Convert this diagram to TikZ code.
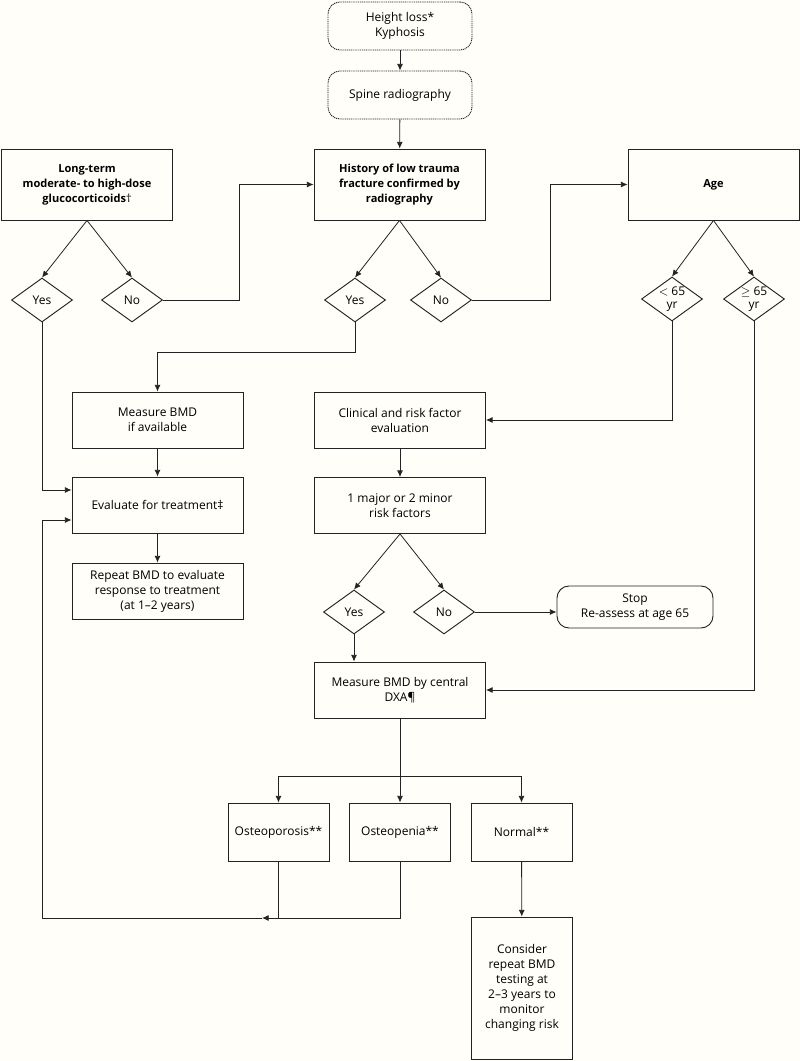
\documentclass[tikz,border=0pt]{standalone}
\usepackage{amsmath,amssymb}
\usepackage{fontspec}
\setmainfont{Open Sans}
\usepackage{tikz}
\usetikzlibrary{arrows.meta,calc,positioning,shapes.geometric}
\usepackage{xcolor}
\definecolor{paper}{RGB}{255,254,248}
\definecolor{ink}{RGB}{35,35,35}
\tikzset{
  box/.style={draw=ink,line width=0.7pt,rectangle,align=center,inner sep=2pt,
    minimum width=128.25pt,minimum height=42pt},
  headbox/.style={box,minimum height=53.25pt,font=\bfseries\fontsize{8.3}{11.25}\selectfont},
  softbox/.style={box,minimum width=108pt,minimum height=36pt,rounded corners=9pt,
    dash pattern=on 0.8pt off 0.6pt},
  smallbox/.style={box,minimum width=75.75pt,minimum height=43.5pt},
  endbox/.style={box,minimum width=117pt,minimum height=31.5pt,rounded corners=9pt},
  choice/.style={draw=ink,line width=0.7pt,diamond,aspect=1.4,inner sep=0pt,align=center,
    minimum width=45.75pt,minimum height=33pt},
  agechoice/.style={choice,label={[align=center,inner sep=0pt]center:#1}},
  every node/.style={font=\fontsize{9}{11.25}\selectfont}
}
\tikzstyle{arrow} = [ink,line width=0.6pt,-{Latex[length=5pt,width=4.5pt]}]

\begin{document}
\begin{tikzpicture}[x=0.75pt,y=-0.75pt]
  % Page
  \fill[paper] (0,0) rectangle (800,1061);
  \useasboundingbox (0,0) rectangle (800,1061);

  % Top of the chart
  \node[softbox] (loss) at (400,26) {Height loss*\\Kyphosis};
  \node[softbox] (xray) at (400,95) {Spine radiography};

  % Three questions
  \node[headbox] (gc) at (87,184.5) {Long-term\\moderate- to high-dose\\glucocorticoids\textmd{†}};
  \node[headbox] (frac) at (399.5,184.5) {History of low trauma\\fracture confirmed by\\radiography};
  \node[headbox] (age) at (713.5,184.5) {Age};

  % Answers
  \node[choice] (gcyes) at (42,300) {Yes};
  \node[choice] (gcno) at (132,300) {No};
  \node[choice] (fracyes) at (355,300) {Yes};
  \node[choice] (fracno) at (441,300) {No};
  \node[agechoice={$<$ 65\\[-1pt]yr}] (young) at (672,299) {};
  \node[agechoice={$\geq$ 65\\[-1pt]yr}] (old) at (754,299) {};

  % Left column
  \node[box] (bmd) at (157.5,420) {Measure BMD\\if available};
  \node[box] (treat) at (157.5,505) {Evaluate for treatment‡};
  \node[box] (again) at (157.5,591) {Repeat BMD to evaluate\\response to treatment\\(at 1--2 years)};

  % Middle column
  \node[box] (clin) at (400,420) {Clinical and risk factor\\evaluation};
  \node[box] (risk) at (400,505.5) {1 major or 2 minor\\risk factors};
  \node[choice] (riskyes) at (354,612) {Yes};
  \node[choice] (riskno) at (444,612) {No};
  \node[endbox] (stop) at (635,607) {Stop\\Re-assess at age 65};
  \node[box] (dxa) at (400,690) {Measure BMD by central\\DXA¶};

  % Results
  \node[smallbox] (porosis) at (278.5,832) {Osteoporosis**};
  \node[smallbox] (penia) at (400,832) {Osteopenia**};
  \node[smallbox] (normal) at (521.5,832) {Normal**};
  \node[smallbox,minimum height=106.5pt] (later) at (522,988) {Consider\\repeat BMD\\testing at\\2--3 years to\\monitor\\changing risk};

  % Connectors
  \draw[arrow] (loss) -- (xray);
  \draw[arrow] (xray) -- (frac);
  \draw[arrow] (gc.south) -- (gcyes.north);
  \draw[arrow] (gc.south) -- (gcno.north);
  \draw[arrow] (gcno.east) -- ++(76,0) |- (frac.west);
  \draw[arrow] (frac.south) -- (fracyes.north);
  \draw[arrow] (frac.south) -- (fracno.north);
  \draw[arrow] (fracno.east) -- ++(78,0) |- (age.west);
  \draw[arrow] (age.south) -- (young.north);
  \draw[arrow] (age.south) -- (old.north);

  \draw[arrow] (fracyes.south) -- ++(0,30) -| (bmd.north);
  \draw[arrow] (bmd) -- (treat);
  \draw[arrow] (treat) -- (again);
  \draw[arrow] (gcyes.south) |- ([yshift=11.25pt]treat.west);

  \draw[arrow] (young.south) |- (clin.east);
  \draw[arrow] (clin) -- (risk);
  \draw[arrow] (risk.south) -- (riskyes.north);
  \draw[arrow] (risk.south) -- (riskno.north);
  \draw[arrow] (riskno.east) -- (riskno.east -| stop.west);
  \draw[arrow] (riskyes.south) -- (riskyes.south |- dxa.north);
  \draw[arrow] (old.south) |- (dxa.east);

  % Split into the three results
  \coordinate (split) at (400,776);
  \coordinate (join) at (262,918);
  \coordinate (corner) at (42,918);
  \draw[arrow] (dxa) -- (penia);
  \draw[arrow] (split) -| (porosis.north);
  \draw[arrow] (split) -| (normal.north);
  \draw[arrow] (normal) -- (later);

  % Back to treatment
  \draw[ink,line width=0.6pt] (porosis.south) -- (porosis.south |- join);
  \draw[arrow] (penia.south) |- (join);
  \draw[arrow] (join) -- (corner) |- ([yshift=-11.25pt]treat.west);
\end{tikzpicture}
\end{document}
